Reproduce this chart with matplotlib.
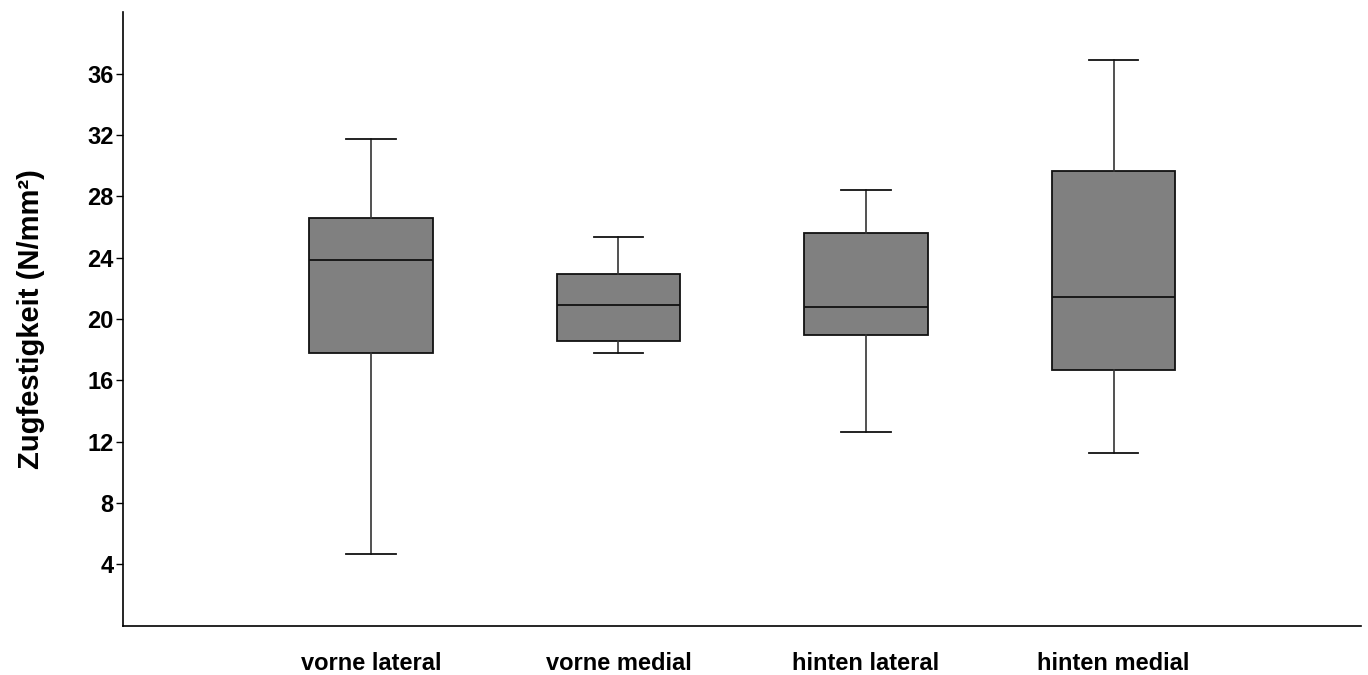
import matplotlib
matplotlib.use("Agg")
from matplotlib import pyplot as plt

plt.rcParams['font.family'] = ['Liberation Sans', 'DejaVu Sans']

groups = ["vorne lateral", "vorne medial", "hinten lateral", "hinten medial"]
whisker_low = [4.67, 17.77, 12.6, 11.27]
q1 = [17.78, 18.55, 18.97, 16.64]
median = [23.84, 20.89, 20.75, 21.43]
q3 = [26.58, 22.91, 25.6, 29.64]
whisker_high = [31.7, 25.32, 28.4, 36.85]
yticks = [4, 8, 12, 16, 20, 24, 28, 32, 36]


def buildStats():
    stats = []
    for i, name in enumerate(groups):
        stats.append({"label": name, "whislo": whisker_low[i], "q1": q1[i],
                      "med": median[i], "q3": q3[i], "whishi": whisker_high[i],
                      "fliers": []})
    return stats


fig = plt.figure(figsize=(13.68, 6.75), dpi=100)
ax = fig.add_axes([0.0901, 0.073, 0.9049, 0.909])

positions = list(range(1, len(groups) + 1))
ax.bxp(buildStats(), positions=positions, widths=0.5, capwidths=0.2,
       patch_artist=True, showfliers=False,
       boxprops=dict(facecolor="#808080", edgecolor="#111111", linewidth=1.3),
       medianprops=dict(color="#111111", linewidth=1.3),
       whiskerprops=dict(color="#333333", linewidth=1.2),
       capprops=dict(color="#111111", linewidth=1.3))

ax.set_xlim(0, 5)
ax.set_ylim(0, 40)
ax.set_yticks(yticks)
ax.set_yticklabels([str(t) for t in yticks], fontsize=17, fontweight="bold")
ax.set_xticks(positions)
ax.set_xticklabels(groups, fontsize=17, fontweight="bold")
ax.tick_params(axis="x", length=0, pad=19)
ax.tick_params(axis="y", length=5, width=1, pad=2)

for side in ["top", "right"]:
    ax.spines[side].set_visible(False)
ax.spines["left"].set_linewidth(1.2)
ax.spines["bottom"].set_linewidth(1.2)

ax.set_ylabel("Zugfestigkeit (N/mm²)", fontsize=21, fontweight="bold", labelpad=30)

fig.savefig("out.png", dpi=100)
